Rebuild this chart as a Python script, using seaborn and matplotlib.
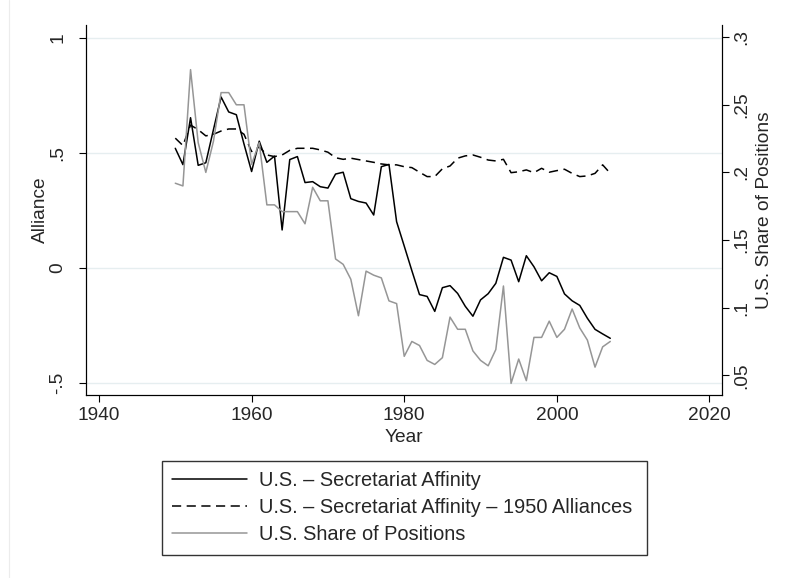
"""
plot.py
-------
U.S. - Secretariat affinity vs. U.S. share of positions, 1950-2007.
Two y axes: alliance affinity on the left, share of positions on the right.
"""

import matplotlib
matplotlib.use("Agg")  # headless
import matplotlib.pyplot as plt
import pandas as pd
import seaborn as sns

# ---- data ----
years = list(range(1950, 2008))

affinity = [
    0.519, 0.448, 0.652, 0.445, 0.456, 0.600, 0.742, 0.677, 0.665, 0.538,
    0.418, 0.550, 0.458, 0.485, 0.164, 0.470, 0.483, 0.370, 0.374, 0.352,
    0.346, 0.407, 0.415, 0.300, 0.288, 0.281, 0.229, 0.439, 0.449, 0.200,
    0.094, -0.013, -0.117, -0.125, -0.190, -0.087, -0.078, -0.112, -0.168, -0.211,
    -0.140, -0.113, -0.068, 0.045, 0.033, -0.061, 0.052, 0.004, -0.057, -0.022,
    -0.038, -0.114, -0.144, -0.164, -0.220, -0.268, -0.288, -0.307,
]

affinity_1950 = [
    0.563, 0.531, 0.620, 0.600, 0.573, 0.580, 0.594, 0.603, 0.603, 0.580,
    0.505, 0.525, 0.490, 0.483, 0.490, 0.510, 0.519, 0.519, 0.519, 0.512,
    0.502, 0.478, 0.471, 0.476, 0.470, 0.464, 0.458, 0.451, 0.447, 0.447,
    0.439, 0.435, 0.415, 0.396, 0.396, 0.430, 0.442, 0.476, 0.486, 0.490,
    0.480, 0.468, 0.464, 0.471, 0.413, 0.417, 0.425, 0.413, 0.432, 0.415,
    0.422, 0.428, 0.410, 0.396, 0.399, 0.410, 0.447, 0.410,
]

share_positions = [
    0.192, 0.190, 0.276, 0.222, 0.200, 0.223, 0.259, 0.259, 0.250, 0.250,
    0.206, 0.222, 0.176, 0.176, 0.171, 0.171, 0.171, 0.162, 0.189, 0.179,
    0.179, 0.136, 0.132, 0.121, 0.094, 0.127, 0.124, 0.122, 0.105, 0.103,
    0.064, 0.075, 0.072, 0.061, 0.058, 0.063, 0.093, 0.084, 0.084, 0.068,
    0.061, 0.057, 0.069, 0.116, 0.044, 0.062, 0.046, 0.078, 0.078, 0.090,
    0.078, 0.084, 0.099, 0.085, 0.076, 0.056, 0.071, 0.075,
]

x_ticks = [1940, 1960, 1980, 2000, 2020]
left_ticks = [-0.5, 0, 0.5, 1]
left_labels = ["-.5", "0", ".5", "1"]
right_ticks = [0.05, 0.10, 0.15, 0.20, 0.25, 0.30]
right_labels = [".05", ".1", ".15", ".2", ".25", ".3"]

labels = [
    "U.S. \u2013 Secretariat Affinity",
    "U.S. \u2013 Secretariat Affinity \u2013 1950 Alliances",
    "U.S. Share of Positions",
]

GRAY = "#969696"
GRID = "#e6eef0"
TICK_FS = 13.8
LEGEND_FS = 14.45


def main():
    sns.set_theme(style="white")
    plt.rcParams["font.family"] = ["Liberation Sans", "DejaVu Sans"]

    df = pd.DataFrame({
        "Year": years,
        "affinity": affinity,
        "affinity_1950": affinity_1950,
        "share": share_positions,
    })

    fig = plt.figure(figsize=(7.86, 5.78), dpi=100)
    ax = fig.add_axes([86 / 786, 1 - 395 / 578, 635.7 / 786, 370 / 578])
    ax2 = ax.twinx()

    sns.lineplot(data=df, x="Year", y="affinity", ax=ax, color="black", lw=1.1)
    sns.lineplot(data=df, x="Year", y="affinity_1950", ax=ax, color="black",
                 lw=1.1, dashes=False)
    ax.lines[-1].set_dashes((6, 3.6))
    sns.lineplot(data=df, x="Year", y="share", ax=ax2, color=GRAY, lw=1.1)

    ax.set_xlim(1938.3, 2021.6)
    ax.set_ylim(-0.5535, 1.055)
    ax2.set_ylim(0.0354, 0.309)

    ax.set_xticks(x_ticks, [str(t) for t in x_ticks])
    ax.set_yticks(left_ticks, left_labels)
    ax2.set_yticks(right_ticks, right_labels)

    # horizontal grid at the left-axis ticks
    ax.grid(False)
    ax2.grid(False)
    for t in left_ticks:
        ax.axhline(t, color=GRID, lw=1.0, zorder=0)

    for a in (ax, ax2):
        a.spines["top"].set_visible(False)
        for side in ("left", "bottom", "right"):
            a.spines[side].set_color("black")
            a.spines[side].set_linewidth(0.8)
        a.patch.set_visible(False)

    ax.tick_params(axis="x", direction="out", length=5, width=0.8, color="black",
                   labelsize=TICK_FS, pad=4, bottom=True)
    ax.tick_params(axis="y", direction="out", length=5, width=0.8, color="black",
                   labelsize=TICK_FS, pad=9, left=True, labelrotation=90)
    ax2.tick_params(axis="y", direction="out", length=5, width=0.8, color="black",
                    labelsize=TICK_FS, pad=3, right=True, labelrotation=90)
    for lab in ax.get_yticklabels() + ax2.get_yticklabels():
        lab.set_va("center")

    ax.set_xlabel("Year", fontsize=TICK_FS, va="center")
    ax.xaxis.set_label_coords(0.5, -0.114)
    ax.set_ylabel("Alliance", fontsize=TICK_FS, va="center")
    ax.yaxis.set_label_coords(-0.0724, 0.5)
    ax2.set_ylabel("U.S. Share of Positions", fontsize=TICK_FS, va="center")
    ax2.yaxis.set_label_coords(1.068, 0.5)

    handles = [ax.lines[0], ax.lines[1], ax2.lines[0]]
    leg = fig.legend(handles, labels, loc="upper left",
                     bbox_to_anchor=(162 / 786, 1 - 554 / 578, 485 / 786, 93 / 578),
                     mode="expand",
                     fontsize=LEGEND_FS, frameon=True, fancybox=False,
                     edgecolor="black", borderaxespad=0, borderpad=0.5,
                     handlelength=3.75, handletextpad=0.6, labelspacing=0.41)
    leg.get_frame().set_linewidth(1.0)

    # faint outer region edge on the left
    fig.add_artist(plt.Line2D([8.5 / 786, 8.5 / 786], [0, 1], color="#ececec",
                              lw=0.8, transform=fig.transFigure))

    fig.savefig("out.png", dpi=100)
    plt.close(fig)


if __name__ == "__main__":
    main()
